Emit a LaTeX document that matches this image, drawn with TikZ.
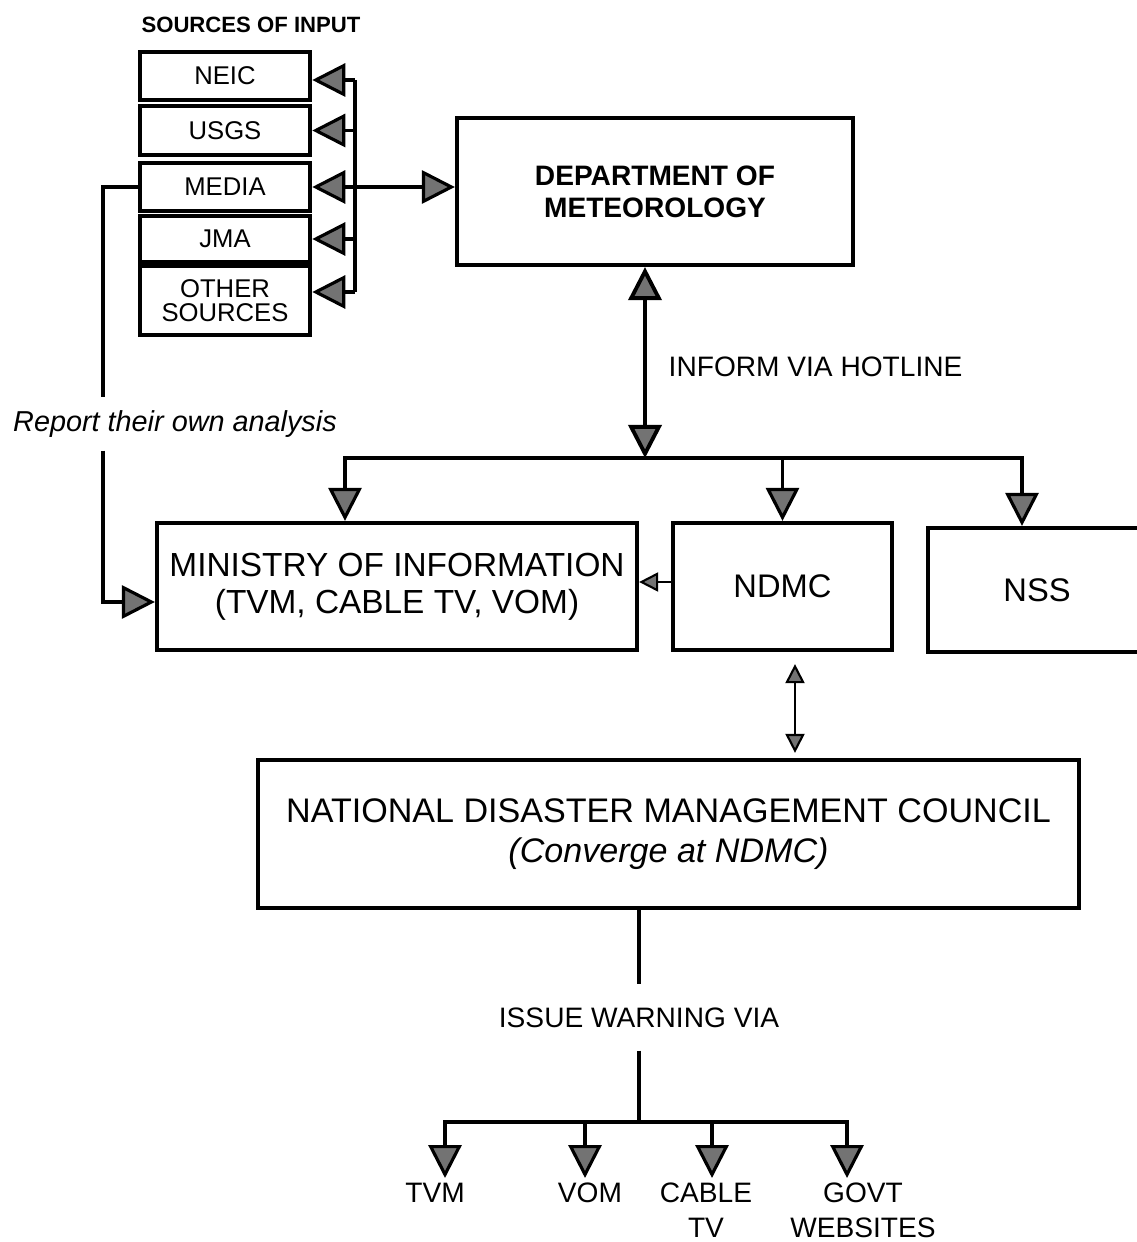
\documentclass[tikz,border=0pt]{standalone}
\usepackage{fontspec}
\setmainfont{Liberation Sans}
\usetikzlibrary{arrows.meta,positioning,calc}

\begin{document}
\begin{tikzpicture}[
  font=\fontsize{9.5}{10.5}\selectfont,
  bigtip/.tip={Triangle[length=3.3mm,width=3.3mm,fill=black!55]},
  smalltip/.tip={Triangle[length=1.9mm,width=1.9mm,fill=black!55]},
  box/.style={draw=black,line width=1.2pt,inner sep=0pt,align=center},
  srcbox/.style={box,line width=1.3pt,minimum width=17mm,
    font=\fontsize{7.3}{6.8}\selectfont},
  wire/.style={draw=black,line width=0.9pt},
  flow/.style={wire,arrows={-bigtip}},
  flowboth/.style={wire,line width=1.1pt,arrows={bigtip-bigtip}},
  thinflow/.style={wire,line width=0.6pt,arrows={-smalltip}},
  thinboth/.style={wire,line width=0.6pt,arrows={smalltip-smalltip}},
  lbl/.style={inner sep=0pt,font=\fontsize{8}{9.5}\selectfont},
  outlabel/.style={lbl,align=center,anchor=north,font=\fontsize{8}{10}\selectfont}]
\path[use as bounding box,fill=white] (0,0) rectangle (11.36,-12.42);

\node[lbl,font=\fontsize{6.3}{7}\selectfont\bfseries] (srctitle) at (2.51,-0.25) {SOURCES OF INPUT};
\node[srcbox,minimum height=4.8mm] (neic) at (2.25,-0.76) {NEIC};
\node[srcbox,minimum height=4.9mm] (usgs) at (2.25,-1.305) {USGS};
\node[srcbox,minimum height=4.8mm] (media) at (2.25,-1.87) {MEDIA};
\node[srcbox,minimum height=4.6mm] (jma) at (2.25,-2.39) {JMA};
\node[srcbox,minimum height=6.9mm] (other) at (2.25,-3.005) {OTHER\\SOURCES};

\node[box,minimum width=39.6mm,minimum height=14.7mm,
  font=\fontsize{8}{9.1}\selectfont\bfseries] (dept) at (6.55,-1.915) {DEPARTMENT OF\\METEOROLOGY};
\node[lbl,anchor=west] (hotline) at (6.68,-3.67) {INFORM VIA HOTLINE};
\node[lbl,minimum height=5.2mm,font=\fontsize{8.2}{9.5}\selectfont\itshape] (report) at (1.75,-4.24) {Report their own analysis};

\node[box,minimum width=48mm,minimum height=12.7mm] (ministry) at (3.97,-5.865) {MINISTRY OF INFORMATION\\(TVM, CABLE TV, VOM)};
\node[box,minimum width=21.9mm,minimum height=12.7mm,font=\fontsize{9.3}{10.5}\selectfont] (ndmc) at (7.825,-5.865) {NDMC};
\node[box,minimum width=21.8mm,minimum height=12.4mm,font=\fontsize{9.3}{10.5}\selectfont] (nss) at (10.37,-5.90) {NSS};
\node[box,minimum width=82.1mm,minimum height=14.8mm,font=\fontsize{9.7}{11.4}\selectfont] (council) at (6.685,-8.34)
  {NATIONAL DISASTER MANAGEMENT COUNCIL\\\textit{(Converge at NDMC)}};

\node[lbl,minimum height=6.5mm] (warn) at (6.39,-10.175) {ISSUE WARNING VIA};
\node[outlabel] (tvm) at (4.35,-11.82) {TVM};
\node[outlabel] (vom) at (5.90,-11.82) {VOM};
\node[outlabel] (cable) at (7.06,-11.82) {CABLE\\TV};
\node[outlabel] (govt) at (8.63,-11.82) {GOVT\\WEBSITES};

\coordinate (srcbus) at (3.55,-0.80);
\draw[flow] (srcbus) -- (srcbus -| neic.east);
\draw[flow] (usgs.east -| srcbus) -- (usgs.east);
\draw[flow] (media.east -| srcbus) -- (media.east);
\draw[flow] (jma.east -| srcbus) -- (jma.east);
\draw[flow] ([yshift=0.85mm]other.east -| srcbus) -- ([yshift=0.85mm]other.east);
\draw[wire] (srcbus) -- ([yshift=0.85mm]other.east -| srcbus);
\draw[flow] (media.east -| srcbus) -- (media.east -| dept.west);

\coordinate (hotbus) at (6.45,-4.58);
\draw[flowboth] ([xshift=-1mm]dept.south) -- (hotbus);
\draw[flow] (hotbus) -| ([xshift=-5.2mm]ministry.north);
\draw[flow] (hotbus) -| ([xshift=-1.5mm]nss.north);
\draw[flow] (hotbus -| ndmc.north) -- (ndmc.north);
\draw[thinflow] ([yshift=0.45mm]ndmc.west) -- ([yshift=0.45mm]ministry.east);
\draw[thinboth,shorten <=1.2mm,shorten >=0.5mm] ([xshift=1.25mm]ndmc.south) -- ([xshift=1.25mm]ndmc.south |- council.north);

\coordinate (fbx) at (1.03,-1.87);
\draw[wire] (media.west) -| (report.north -| fbx);
\draw[flow] (report.south -| fbx) |- ([yshift=-1.55mm]ministry.west);

\draw[wire] (warn.north |- council.south) -- (warn.north);
\coordinate (outbus) at (6.39,-11.22);
\draw[wire] (warn.south) -- (outbus);
\draw[flow,shorten >=0.4mm] (outbus) -| ([xshift=1mm]tvm.north);
\draw[flow,shorten >=0.4mm] (outbus) -| ([xshift=-1.6mm]govt.north);
\draw[flow,shorten >=0.4mm] ([xshift=-0.5mm]vom.north |- outbus) -- ([xshift=-0.5mm]vom.north);
\draw[flow,shorten >=0.4mm] ([xshift=0.6mm]cable.north |- outbus) -- ([xshift=0.6mm]cable.north);
\end{tikzpicture}
\end{document}
